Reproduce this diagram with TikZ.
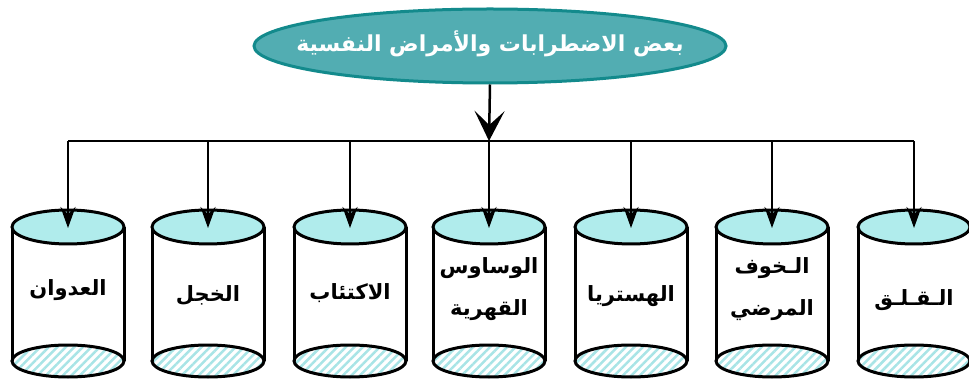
\documentclass[tikz,border=0pt]{standalone}
\usepackage{fontspec}
\newfontfamily\arabicfont[Script=Arabic]{DejaVu Sans}
\TeXXeTstate=1
\usetikzlibrary{arrows.meta,patterns.meta,shapes.geometric}
\definecolor{titlefill}{HTML}{52ADB2}
\definecolor{titleline}{HTML}{138A8C}
\definecolor{cyltop}{HTML}{B0ECEC}
\definecolor{hatch}{HTML}{A8E4E6}
\newcommand{\AR}[1]{{\arabicfont\beginR #1\endR}}
\tikzset{
  titlebox/.style={ellipse, draw=titleline, line width=3pt, fill=titlefill,
    minimum width=472pt, minimum height=74pt, inner sep=0pt},
  titletext/.style={text=white, inner sep=0pt,
    font=\arabicfont\bfseries\fontsize{22}{26}\selectfont},
  cyllabel/.style={align=center, font=\arabicfont\bfseries\fontsize{21}{42}\selectfont, inner sep=0pt},
  conn/.style={line width=2.5pt, draw=black},
  bigarrow/.style={conn, -{Stealth[length=30pt,width=30pt,inset=14pt]}},
  smallarrow/.style={conn, -{Stealth[length=21pt,width=15pt,inset=7pt]}},
  cylline/.style={line width=3pt, draw=black},
}
\begin{document}
\begin{tikzpicture}[x=1pt,y=-1pt]
\useasboundingbox (0,0) rectangle (969,379);
\node[titlebox] (title) at (490,46) {};
\node[titletext] (titletxt) at (490,44) {\beginR بعض الاضطرابات والأمراض النفسية\endR};
% cylinders
\foreach \i/\cx in {1/68,2/208,3/350,4/489,5/631,6/772,7/914}{
  \fill[white] (\cx-56,227) rectangle (\cx+56,361);
  \path[pattern={Lines[angle=45,distance=6pt,line width=2.5pt]}, pattern color=hatch]
     (\cx,361) ellipse [x radius=56, y radius=16];
  \draw[cylline] (\cx,361) ellipse [x radius=56, y radius=16];
  \draw[cylline] (\cx-56,227) -- (\cx-56,361);
  \draw[cylline] (\cx+56,227) -- (\cx+56,361);
  \draw[cylline, fill=cyltop] (\cx,227) ellipse [x radius=56, y radius=17];
  \coordinate (t\i) at (\cx,228);
  \coordinate (h\i) at (\cx,141);
}
\node[cyllabel] (l1) at (68,290) {\AR{العدوان}};
\node[cyllabel] (l2) at (208,295) {\AR{الخجل}};
\node[cyllabel] (l3) at (350,293) {\AR{الاكتئاب}};
\node[cyllabel] (l4) at (489,289) {\AR{الوساوس}\\\AR{القهرية}};
\node[cyllabel] (l5) at (631,296) {\AR{الهستريا}};
\node[cyllabel] (l6) at (772,289) {\AR{الـخوف}\\\AR{المرضي}};
\node[cyllabel] (l7) at (914,300) {\AR{الـقـلـق}};
% connectors
\draw[conn] (h1) -- (h7);
\draw[bigarrow] (title.south) -- (h4);
\foreach \i in {1,...,7}{
  \draw[smallarrow] (h\i) -- (t\i);
}
\end{tikzpicture}
\end{document}
